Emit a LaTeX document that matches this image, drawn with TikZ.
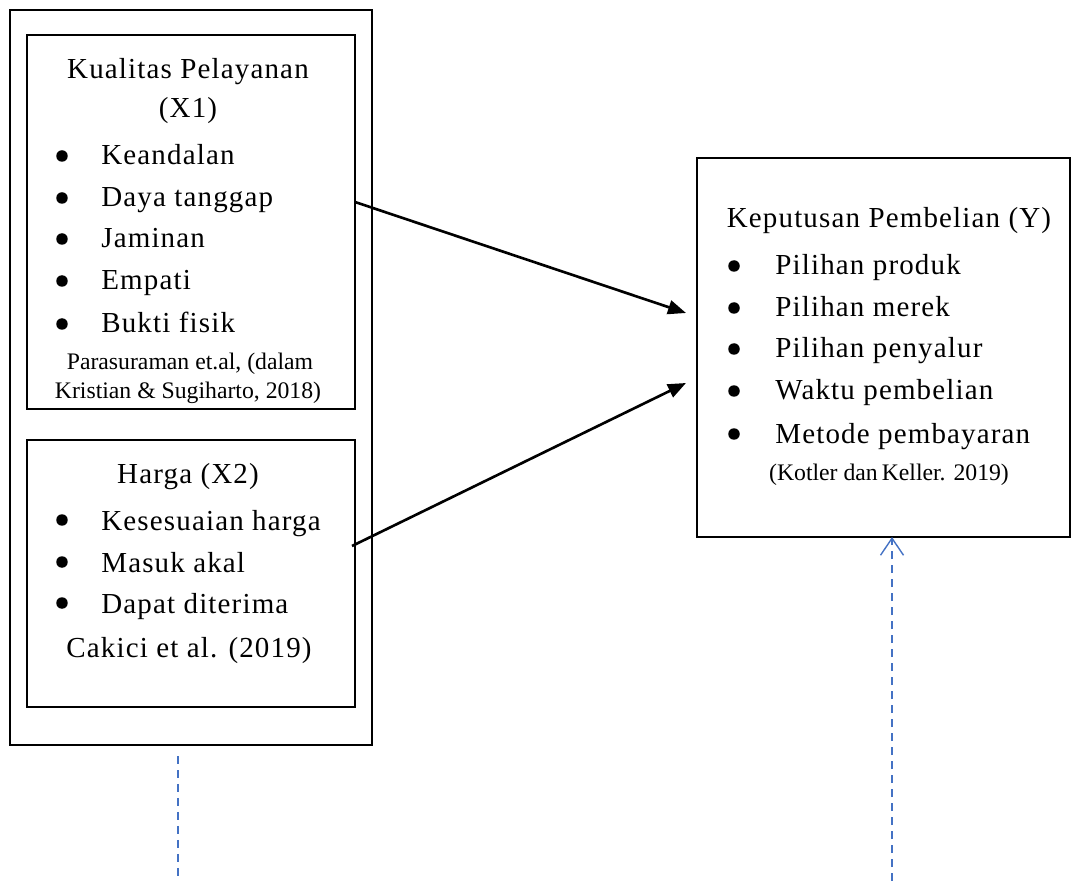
\documentclass[tikz,border=0pt]{standalone}
\usepackage{fontspec}
\setmainfont{Liberation Serif}[LetterSpace=4]
\newfontfamily\citefont{Liberation Serif}
\usepackage{tikz}
\usetikzlibrary{arrows.meta}

\definecolor{linkblue}{HTML}{4472C4}

\tikzset{
    box/.style={draw,line width=0.8pt,inner sep=0pt},
    head/.style={anchor=base,inner sep=0pt,font=\fontsize{16.5}{19}\selectfont},
    item/.style={anchor=base west,inner sep=0pt,font=\fontsize{16.5}{19}\selectfont},
    dot/.style={circle,fill,inner sep=0pt,minimum size=0.23cm},
    cite/.style={anchor=base,inner sep=0pt,font=\citefont\fontsize{13.5}{16}\selectfont},
    link/.style={-{Triangle[length=0.36cm,width=0.28cm]},line width=1.5pt},
    bluedash/.style={linkblue,line width=0.8pt,dash pattern=on 0.16cm off 0.12cm}
}

\begin{document}
\begin{tikzpicture}[x=0.02cm,y=-0.02cm]

    \useasboundingbox (0,0) rectangle (1071,881);

    % Kotak luar variabel bebas
    \node[box,minimum width=7.24cm,minimum height=14.7cm] (outer) at (191,377.5) {};

    % Kualitas Pelayanan (X1)
    \node[box,minimum width=6.56cm,minimum height=7.48cm] (x1) at (191,222) {};
    \node[head] (x1title) at (188,79) {Kualitas Pelayanan};
    \node[head] (x1code) at (188,118) {(X1)};
    \node[dot] (x1d1) at (62,156) {};
    \node[item] (x1i1) at (101,165) {Keandalan};
    \node[dot] (x1d2) at (62,198) {};
    \node[item] (x1i2) at (101,207) {Daya tanggap};
    \node[dot] (x1d3) at (62,239) {};
    \node[item] (x1i3) at (101,248) {Jaminan};
    \node[dot] (x1d4) at (62,281) {};
    \node[item] (x1i4) at (101,290) {Empati};
    \node[dot] (x1d5) at (62,324) {};
    \node[item] (x1i5) at (101,333) {Bukti fisik};
    \node[cite] (x1cite1) at (190,370) {Parasuraman et.al, (dalam};
    \node[cite] (x1cite2) at (188,399) {Kristian \& Sugiharto, 2018)};

    % Harga (X2)
    \node[box,minimum width=6.56cm,minimum height=5.34cm] (x2) at (191,573.5) {};
    \node[head] (x2title) at (188,483) {Harga (X2)};
    \node[dot] (x2d1) at (62,520) {};
    \node[item] (x2i1) at (101,530) {Kesesuaian harga};
    \node[dot] (x2d2) at (62,562) {};
    \node[item] (x2i2) at (101,572) {Masuk akal};
    \node[dot] (x2d3) at (62,603) {};
    \node[item] (x2i3) at (101,613) {Dapat diterima};
    \node[head] (x2cite) at (189,657) {Cakici et al. (2019)};

    % Keputusan Pembelian (Y)
    \node[box,minimum width=7.46cm,minimum height=7.58cm] (y) at (883.5,347.5) {};
    \node[head] (ytitle) at (889,228) {Keputusan Pembelian (Y)};
    \node[dot] (yd1) at (734,266) {};
    \node[item] (yi1) at (775,275) {Pilihan produk};
    \node[dot] (yd2) at (734,308) {};
    \node[item] (yi2) at (775,317) {Pilihan merek};
    \node[dot] (yd3) at (734,349) {};
    \node[item] (yi3) at (775,358) {Pilihan penyalur};
    \node[dot] (yd4) at (734,391) {};
    \node[item] (yi4) at (775,400) {Waktu pembelian};
    \node[dot] (yd5) at (734,434) {};
    \node[item] (yi5) at (775,443) {Metode pembayaran};
    \node[cite] (ycite) at (889,480) {(Kotler dan\,Keller. 2019)};

    % Ujung panah
    \coordinate (x1out) at (355,202);
    \coordinate (x2out) at (352,546);
    \coordinate (yin1) at (686,313);
    \coordinate (yin2) at (686,383);
    \coordinate (leftlow) at (178,756);
    \coordinate (leftend) at (178,881);
    \coordinate (rightend) at (892,881);
    \coordinate (ybottom) at (892,537);

    % Panah pengaruh
    \draw[link] (x1out) -- (yin1);
    \draw[link] (x2out) -- (yin2);

    % Garis putus-putus biru
    \draw[bluedash] (leftlow) -- (leftend);
    \draw[bluedash,-{Straight Barb[length=0.34cm,width=0.46cm]}] (rightend) -- (ybottom);

\end{tikzpicture}
\end{document}
